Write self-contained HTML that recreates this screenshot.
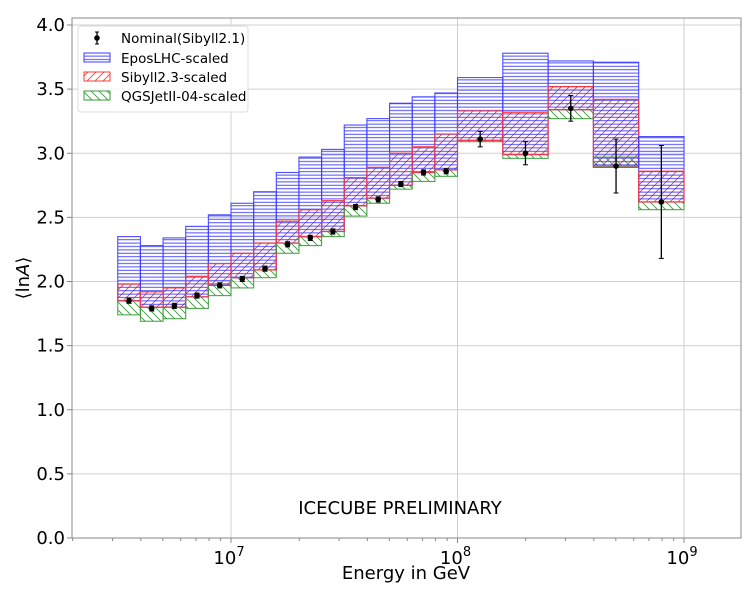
<!DOCTYPE html>
<html><head><meta charset="utf-8"><style>
html,body{margin:0;padding:0;background:#fff;}
svg{display:block;font-family:"DejaVu Sans","Liberation Sans",sans-serif;}
</style></head><body>
<svg id="chart" width="750" height="600" viewBox="0 0 750 600">
<defs>
<pattern id="hb" patternUnits="userSpaceOnUse" width="8" height="3.4"><line x1="0" y1="1.7" x2="8" y2="1.7" stroke="#3b3bff" stroke-width="0.9"/></pattern>
<pattern id="hr" patternUnits="userSpaceOnUse" width="8" height="8"><path d="M-2,2 L2,-2 M0,8 L8,0 M6,10 L10,6" stroke="#ff3b3b" stroke-width="0.9"/></pattern>
<pattern id="hg" patternUnits="userSpaceOnUse" width="8" height="8"><path d="M-2,6 L2,10 M0,0 L8,8 M6,-2 L10,2" stroke="#3a9a3a" stroke-width="0.9"/></pattern>
</defs>
<g id="grid"></g>
<g id="boxes"></g>
<g id="points"></g>
<rect x="72" y="18" width="669" height="520" fill="none" stroke="#888" stroke-width="1"/>
<g id="axes"></g>
<text x="400" y="514" font-size="18" text-anchor="middle">ICECUBE PRELIMINARY</text>
<text x="406" y="579" font-size="18" text-anchor="middle">Energy in GeV</text>
<text transform="translate(29,278) rotate(-90)" font-size="18" text-anchor="middle">⟨ln<tspan font-style="italic">A</tspan>⟩</text>
<g>
<rect x="78" y="26" width="170" height="86" rx="3" fill="#fff" fill-opacity="0.85" stroke="#ddd"/>
<g>
<line x1="97" y1="32" x2="97" y2="44" stroke="#000" stroke-width="1.3"/><line x1="95" y1="32" x2="99" y2="32" stroke="#000"/><line x1="95" y1="44" x2="99" y2="44" stroke="#000"/><circle cx="97" cy="38" r="2.8" fill="#000"/>
<text x="121" y="43" font-size="13.5">Nominal(Sibyll2.1)</text></g>
<g>
<rect x="84" y="53" width="26" height="9" fill="url(#hb)" stroke="#3b3bff"/><text x="121" y="63" font-size="13.5">EposLHC-scaled</text></g>
<g>
<rect x="84" y="72" width="26" height="9" fill="url(#hr)" stroke="#ff3b3b"/><text x="121" y="82" font-size="13.5">Sibyll2.3-scaled</text></g>
<g>
<rect x="84" y="91" width="26" height="9" fill="url(#hg)" stroke="#3a9a3a"/><text x="121" y="101" font-size="13.5">QGSJetII-04-scaled</text></g>
</g>
</svg>
<script>
const binEdges=[6.5,6.6,6.7,6.8,6.9,7.0,7.1,7.2,7.3,7.4,7.5,7.6,7.7,7.8,7.9,8.0,8.2,8.4,8.6,8.8,9.0];
const nominal=[1.85,1.79,1.81,1.89,1.97,2.02,2.10,2.29,2.34,2.39,2.58,2.64,2.76,2.85,2.86,3.11,3.00,3.35,2.90,2.62];
const nominalErr=[0.02,0.02,0.02,0.02,0.02,0.02,0.02,0.02,0.02,0.02,0.02,0.02,0.02,0.02,0.02,0.06,0.09,0.10,0.21,0.44];
const eposHigh=[2.35,2.28,2.34,2.43,2.52,2.61,2.70,2.85,2.97,3.03,3.22,3.27,3.39,3.44,3.47,3.59,3.78,3.72,3.71,3.13];
const sibyllHigh=[1.98,1.92,1.95,2.04,2.14,2.22,2.30,2.47,2.56,2.63,2.81,2.89,3.00,3.05,3.15,3.33,3.32,3.52,3.42,2.86];
const sibyllLow=[1.85,1.80,1.80,1.88,1.97,2.03,2.09,2.30,2.35,2.39,2.59,2.65,2.75,2.85,2.87,3.10,2.99,3.34,2.89,2.62];
const qgsHigh=[1.85,1.80,1.80,1.88,1.97,2.03,2.09,2.30,2.35,2.39,2.59,2.65,2.75,2.85,2.87,3.10,2.99,3.34,2.97,2.62];
const qgsLow=[1.74,1.69,1.71,1.79,1.89,1.95,2.03,2.22,2.28,2.35,2.51,2.61,2.72,2.78,2.82,3.09,2.96,3.27,2.90,2.56];
const yTicks=[0,0.5,1,1.5,2,2.5,3,3.5,4];
const xMajor=[7,8,9];
const NS="http://www.w3.org/2000/svg";
const X0=72,X1=741,Y0=538;
function xs(l){return 231+(l-7)*226.5;}
function ys(v){return Y0-v*128.25;}
function mk(tag,attrs,parent){const e=document.createElementNS(NS,tag);for(const k in attrs)e.setAttribute(k,attrs[k]);parent.appendChild(e);return e;}
const grid=document.getElementById('grid'),axes=document.getElementById('axes'),boxes=document.getElementById('boxes'),pts=document.getElementById('points');
yTicks.forEach(t=>{const y=ys(t);
 const g=mk('line',{x1:X0,x2:X1,y1:y,y2:y,stroke:'#d0d0d0','stroke-width':1},grid);
 
 mk('line',{x1:X0-5,x2:X0,y1:y,y2:y,stroke:'#888'},axes);
 const tx=mk('text',{x:X0-7,y:y+6,'font-size':18,'text-anchor':'end'},axes);tx.textContent=t.toFixed(1);
 });
xMajor.forEach(d=>{const x=xs(d);
 const g=mk('line',{x1:x,x2:x,y1:18,y2:Y0,stroke:'#d0d0d0','stroke-width':1},grid);
 
 mk('line',{x1:x,x2:x,y1:Y0,y2:Y0+5,stroke:'#888'},axes);
 const tx=mk('text',{x:x-2,y:Y0+26,'font-size':18,'text-anchor':'middle'},axes);
 
 tx.textContent='10';const s=mk('tspan',{dy:-8,'font-size':13},tx);s.textContent=String(d);});
for(let d=6;d<=9;d++)for(let m=2;m<=9;m++){const x=xs(d+Math.log10(m));if(x>X0&&x<X1)mk('line',{x1:x,x2:x,y1:Y0,y2:Y0+3,stroke:'#888'},axes);}
function box(i,lo,hi,fill,stroke,name){const x=xs(binEdges[i]),w=xs(binEdges[i+1])-x;
 const r=mk('rect',{x:x,y:ys(hi),width:w,height:ys(lo)-ys(hi),fill:fill,stroke:stroke,'stroke-width':1.1,'stroke-opacity':0.9},boxes);
 }
for(let i=0;i<nominal.length;i++){
 box(i,qgsLow[i],qgsHigh[i],'url(#hg)','#3a9a3a','qgsjet-box');
 box(i,sibyllLow[i],sibyllHigh[i],'url(#hr)','#ff3b3b','sibyll23-box');
 box(i,sibyllLow[i],eposHigh[i],'url(#hb)','#3b3bff','eposlhc-box');
 box(i,sibyllLow[i],sibyllHigh[i],'none','#ff3b3b','sibyll23-outline');
}
for(let i=0;i<nominal.length;i++){
 const x=xs((binEdges[i]+binEdges[i+1])/2),v=nominal[i],e=nominalErr[i];
 const g=mk('g',{},pts);
 mk('line',{x1:x,x2:x,y1:ys(v+e),y2:ys(v-e),stroke:'#000','stroke-width':1.3},g);
 mk('line',{x1:x-2.5,x2:x+2.5,y1:ys(v+e),y2:ys(v+e),stroke:'#000'},g);
 mk('line',{x1:x-2.5,x2:x+2.5,y1:ys(v-e),y2:ys(v-e),stroke:'#000'},g);
 mk('circle',{cx:x,cy:ys(v),r:2.8,fill:'#000'},g);}
</script>
</body></html>
